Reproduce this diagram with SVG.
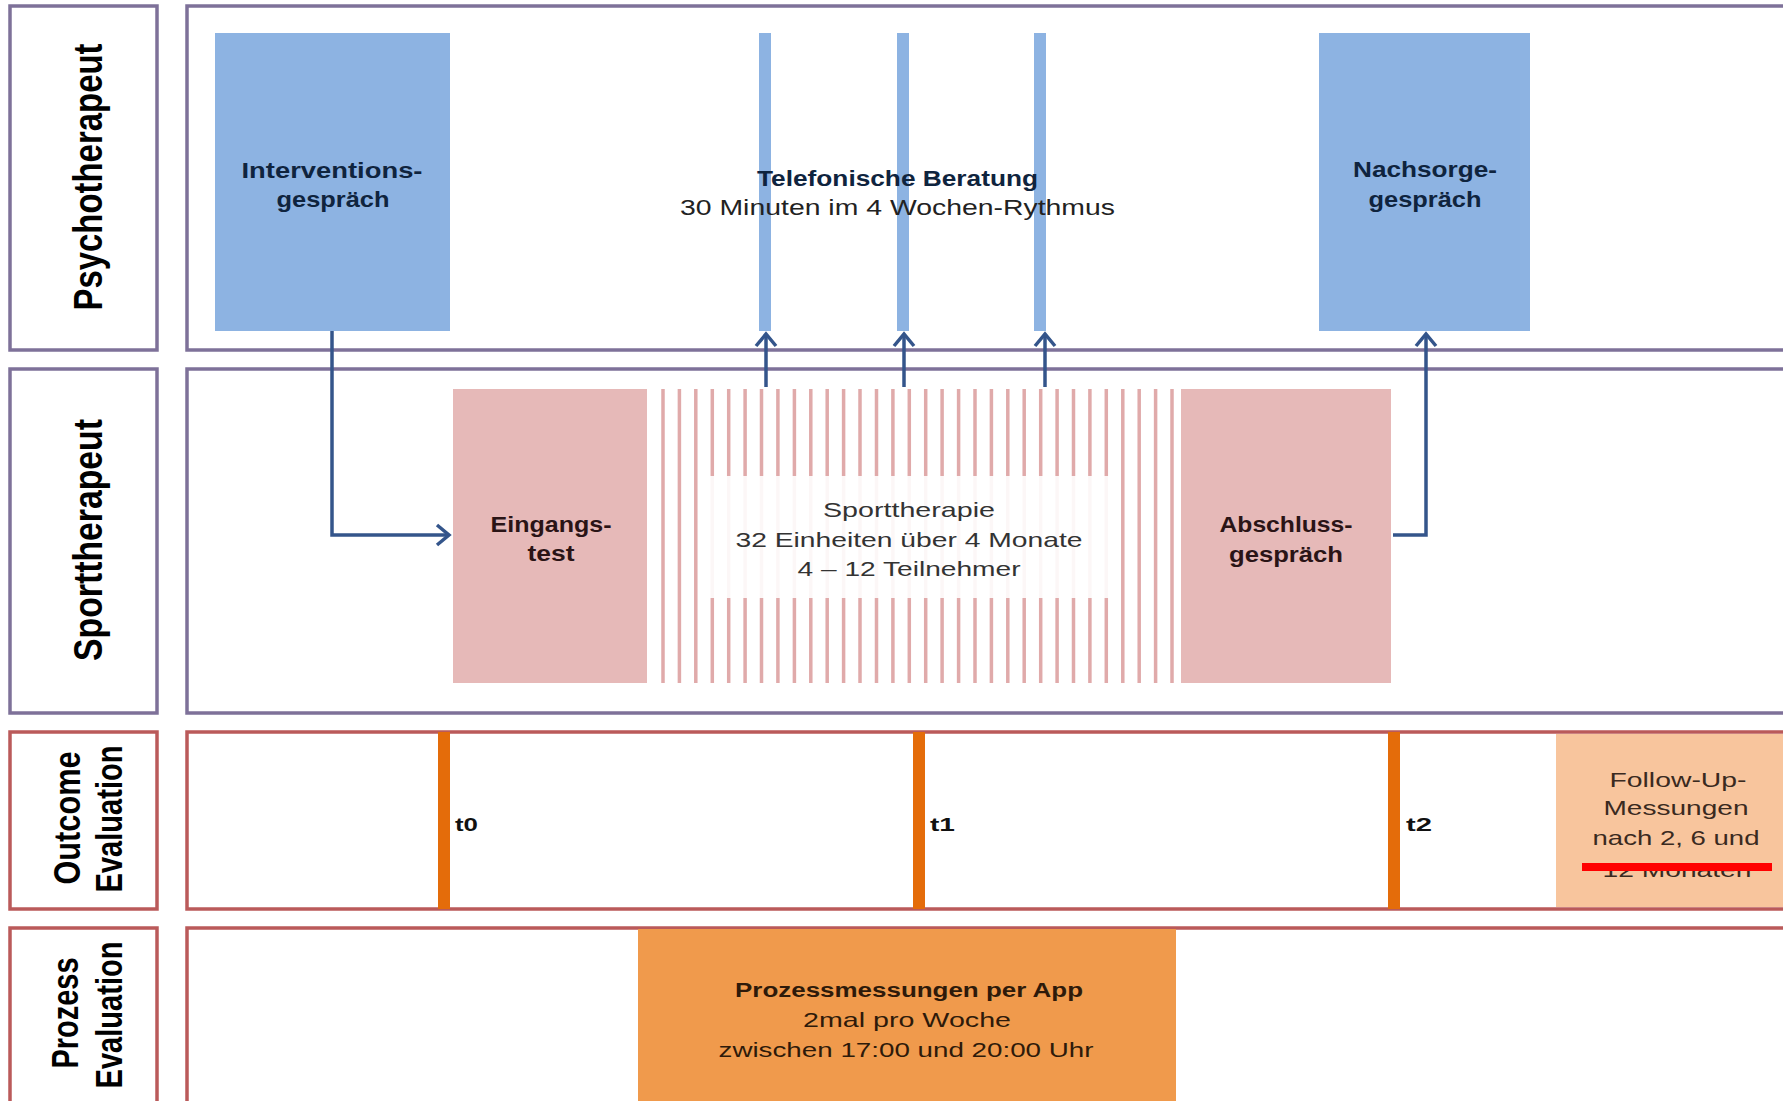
<svg xmlns="http://www.w3.org/2000/svg" width="1783" height="1101" viewBox="0 0 1783 1101">
<style>
.lane{fill:#fff;stroke:#7E7199;stroke-width:3.5}
.laneR{fill:#fff;stroke:#BA5A5A;stroke-width:3.5}
.lbl{font-family:"Liberation Sans",Arial,sans-serif;font-weight:bold;fill:#000;text-anchor:middle}
.t{font-family:"Liberation Sans",Arial,sans-serif;text-anchor:middle}
.b{font-weight:bold}
.blue{fill:#8DB3E2}
.pink{fill:#E6B9B8}
.navy{fill:#0F243E}
.dk{fill:#2A1416}
.conn{fill:none;stroke:#34558B;stroke-width:3.5}
.tbar{fill:#E46C0A}
.tl{font-family:"Liberation Sans",Arial,sans-serif;font-weight:bold;font-size:19px;fill:#111}
</style>
<defs>
<marker id="arr" markerUnits="userSpaceOnUse" markerWidth="26" markerHeight="26" viewBox="0 0 26 26" refX="21" refY="13" orient="auto">
<path d="M9,3 L21,13 L9,23" fill="none" stroke="#34558B" stroke-width="3.5"/>
</marker>
</defs>
<rect width="1783" height="1101" fill="#fff"/>
<g id="lanes">
<rect class="lane" x="10" y="6" width="147" height="344"/>
<rect class="lane" x="187" y="6" width="1620" height="344"/>
<rect class="lane" x="10" y="369" width="147" height="344"/>
<rect class="lane" x="187" y="369" width="1620" height="344"/>
<rect class="laneR" x="10" y="732" width="147" height="177"/>
<rect class="laneR" x="187" y="732" width="1620" height="177"/>
<rect class="laneR" x="10" y="928" width="147" height="200"/>
<rect class="laneR" x="187" y="928" width="1620" height="200"/>
<text class="lbl" font-size="40" textLength="267" lengthAdjust="spacingAndGlyphs" transform="translate(102,177) rotate(-90)">Psychotherapeut</text>
<text class="lbl" font-size="40" textLength="242" lengthAdjust="spacingAndGlyphs" transform="translate(102,540) rotate(-90)">Sporttherapeut</text>
<text class="lbl" font-size="37" textLength="133" lengthAdjust="spacingAndGlyphs" transform="translate(80,818) rotate(-90)">Outcome</text>
<text class="lbl" font-size="37" textLength="147" lengthAdjust="spacingAndGlyphs" transform="translate(122,819) rotate(-90)">Evaluation</text>
<text class="lbl" font-size="37" textLength="111" lengthAdjust="spacingAndGlyphs" transform="translate(78,1013) rotate(-90)">Prozess</text>
<text class="lbl" font-size="37" textLength="147" lengthAdjust="spacingAndGlyphs" transform="translate(122,1015) rotate(-90)">Evaluation</text>
</g>
<g id="interventionsgespraech">
<rect class="blue" x="215" y="33" width="235" height="298"/>
<text class="t b navy" font-size="22" x="332" y="178" textLength="181" lengthAdjust="spacingAndGlyphs">Interventions-</text>
<text class="t b navy" font-size="22" x="333" y="207" textLength="113" lengthAdjust="spacingAndGlyphs">gespräch</text>
</g>
<g id="telefonische-beratung">
<rect class="blue" x="759" y="33" width="12" height="298"/>
<rect class="blue" x="897" y="33" width="12" height="298"/>
<rect class="blue" x="1034" y="33" width="12" height="298"/>
<text class="t b navy" font-size="22" x="897.5" y="186" textLength="281" lengthAdjust="spacingAndGlyphs">Telefonische Beratung</text>
<text class="t" font-size="22" fill="#222" x="897.5" y="215" textLength="435" lengthAdjust="spacingAndGlyphs">30 Minuten im 4 Wochen-Rythmus</text>
</g>
<g id="nachsorgegespraech">
<rect class="blue" x="1319" y="33" width="211" height="298"/>
<text class="t b navy" font-size="22" x="1425" y="177" textLength="144" lengthAdjust="spacingAndGlyphs">Nachsorge-</text>
<text class="t b navy" font-size="22" x="1425" y="207" textLength="113" lengthAdjust="spacingAndGlyphs">gespräch</text>
</g>
<g id="eingangstest">
<rect class="pink" x="453" y="389" width="194" height="294"/>
<text class="t b dk" font-size="22" x="551" y="532" textLength="121" lengthAdjust="spacingAndGlyphs">Eingangs-</text>
<text class="t b dk" font-size="22" x="551" y="561" textLength="47" lengthAdjust="spacingAndGlyphs">test</text>
</g>
<g id="sporttherapie">
<path fill="none" stroke="#E0AAAA" stroke-width="3.5" d="M663,389V683M679.4,389V683M695.8,389V683M712.3,389V683M728.7,389V683M745.1,389V683M761.5,389V683M777.9,389V683M794.4,389V683M810.8,389V683M827.2,389V683M843.6,389V683M860,389V683M876.5,389V683M892.9,389V683M909.3,389V683M925.7,389V683M942.1,389V683M958.6,389V683M975,389V683M991.4,389V683M1007.8,389V683M1024.2,389V683M1040.7,389V683M1057.1,389V683M1073.5,389V683M1089.9,389V683M1106.3,389V683M1122.8,389V683M1139.2,389V683M1155.6,389V683M1172,389V683"/>
<rect x="704" y="476" width="410" height="122" fill="#fff" opacity="0.9"/>
<text class="t" font-size="21" fill="#333" x="909" y="517" textLength="172" lengthAdjust="spacingAndGlyphs">Sporttherapie</text>
<text class="t" font-size="21" fill="#333" x="909" y="547" textLength="347" lengthAdjust="spacingAndGlyphs">32 Einheiten über 4 Monate</text>
<text class="t" font-size="21" fill="#333" x="909" y="576" textLength="223" lengthAdjust="spacingAndGlyphs">4 – 12 Teilnehmer</text>
</g>
<g id="abschlussgespraech">
<rect class="pink" x="1181" y="389" width="210" height="294"/>
<text class="t b dk" font-size="22" x="1286" y="532" textLength="133" lengthAdjust="spacingAndGlyphs">Abschluss-</text>
<text class="t b dk" font-size="22" x="1286" y="562" textLength="114" lengthAdjust="spacingAndGlyphs">gespräch</text>
</g>
<g id="t0">
<rect class="tbar" x="438" y="732" width="12" height="177"/>
<text class="tl" x="455" y="831" textLength="23" lengthAdjust="spacingAndGlyphs">t0</text>
</g>
<g id="t1">
<rect class="tbar" x="913" y="732" width="12" height="177"/>
<text class="tl" x="930" y="831" textLength="25" lengthAdjust="spacingAndGlyphs">t1</text>
</g>
<g id="t2">
<rect class="tbar" x="1388" y="732" width="12" height="177"/>
<text class="tl" x="1406" y="831" textLength="26" lengthAdjust="spacingAndGlyphs">t2</text>
</g>
<g id="follow-up">
<rect x="1556" y="734" width="240" height="173" fill="#F8C59D"/>
<text class="t" font-size="21" fill="#3A2A1F" x="1678" y="787" textLength="137" lengthAdjust="spacingAndGlyphs">Follow-Up-</text>
<text class="t" font-size="21" fill="#3A2A1F" x="1676" y="815" textLength="145" lengthAdjust="spacingAndGlyphs">Messungen</text>
<text class="t" font-size="21" fill="#3A2A1F" x="1676" y="845" textLength="167" lengthAdjust="spacingAndGlyphs">nach 2, 6 und</text>
<text class="t" font-size="21" fill="#3A2A1F" x="1677" y="877" textLength="149" lengthAdjust="spacingAndGlyphs">12 Monaten</text>
<rect x="1582" y="863" width="190" height="8" fill="#FF0000"/>
</g>
<g id="prozessmessungen">
<rect x="638" y="929" width="538" height="180" fill="#F09A4C"/>
<text class="t b" font-size="20" fill="#2E1A0A" x="909" y="997" textLength="348" lengthAdjust="spacingAndGlyphs">Prozessmessungen per App</text>
<text class="t" font-size="21" fill="#2E1A0A" x="907" y="1027" textLength="208" lengthAdjust="spacingAndGlyphs">2mal pro Woche</text>
<text class="t" font-size="21" fill="#2E1A0A" x="906" y="1057" textLength="375" lengthAdjust="spacingAndGlyphs">zwischen 17:00 und 20:00 Uhr</text>
</g>
<g id="connectors">
<path class="conn" d="M332,331 V535 H449" marker-end="url(#arr)"/>
<path class="conn" d="M766,387 V334" marker-end="url(#arr)"/>
<path class="conn" d="M904,387 V334" marker-end="url(#arr)"/>
<path class="conn" d="M1045,387 V334" marker-end="url(#arr)"/>
<path class="conn" d="M1393,535 H1426 V334" marker-end="url(#arr)"/>
</g>
</svg>
